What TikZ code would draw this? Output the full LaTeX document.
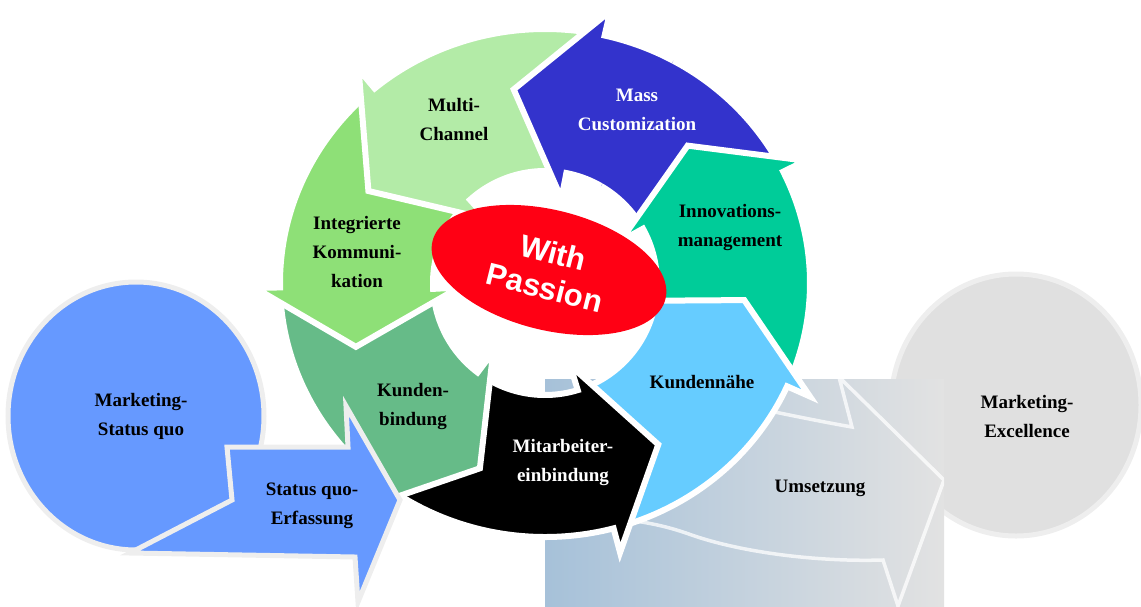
\documentclass[tikz,border=0pt]{standalone}
\usepackage{fontspec}
\setmainfont{Liberation Serif}
\newfontfamily\passionfont{Liberation Sans}
\usetikzlibrary{calc,shapes.geometric}

\definecolor{massblue}{HTML}{3333CC}
\definecolor{multigreen}{HTML}{B3EBA7}
\definecolor{intgreen}{HTML}{8EE077}
\definecolor{kundgreen}{HTML}{66BB88}
\definecolor{naeheblue}{HTML}{66CCFF}
\definecolor{innoteal}{HTML}{00CC99}
\definecolor{passionred}{HTML}{FF0014}
\definecolor{statusblue}{HTML}{6699FF}
\definecolor{rimgrey}{HTML}{EEEEEE}
\definecolor{excgrey}{HTML}{E0E0E0}
\definecolor{rectblue}{HTML}{A6C1D9}
\definecolor{rectgrey}{HTML}{E2E2E2}

\tikzset{
  lbl/.style={font=\fontsize{19}{29}\selectfont\bfseries, align=center, inner sep=0pt},
  lblw/.style={lbl, text=white},
  rimline/.style={draw=rimgrey, line width=5pt, line join=miter},
  ringgap/.style={draw=white, line width=6pt, line join=miter},
}

% one curved arrow of the cycle: colour, tail, head base, tip, inner barb (angles round C)
\newcommand{\cyclearrow}[5]{%
  \filldraw[#1, ringgap]
    ($(C)+(#2:265 and 254)$) arc[start angle=#2, end angle=#3, x radius=265, y radius=254]
    -- ($(C)+(#3:290 and 279)$) -- ($(C)+(#4:200 and 196)$)
    -- ($(C)+(#5:86)$) -- ($(C)+(#5:112)$)
    arc[start angle=#5, end angle=#2, radius=112] -- cycle;}

\begin{document}
\begin{tikzpicture}[x=1pt,y=-1pt]
\useasboundingbox (0,0) rectangle (1141,606);
\coordinate (C) at (545,283);
% goal and implementation
\filldraw[excgrey, rimline] (1016,405) ellipse[x radius=125, y radius=131];
\shade[left color=rectblue, right color=rectgrey] (545,379) rectangle (944,606);
\begin{scope}
\clip (545,379) rectangle (944,606);
\draw[white, opacity=0.75, line width=3.5pt, line join=miter]
  (600,440) -- (700,398) .. controls (740,404) and (800,418) .. (852,427) -- (839,377)
  -- (944,480) -- (898,606) -- (883,560) .. controls (820,562) and (740,553) .. (686,533)
  .. controls (665,526) and (645,521) .. (600,517) -- cycle;
\end{scope}
% the cycle
\cyclearrow{massblue}{-29}{-77}{-99}{-79}
\cyclearrow{innoteal}{21}{-26}{-44.5}{-29}
\cyclearrow{naeheblue}{72}{24}{5}{12}
\cyclearrow{black}{124}{75}{55.5}{73}
\cyclearrow{kundgreen}{176}{127}{109}{127}
\cyclearrow{intgreen}{-133}{-181}{-199}{-183}
\cyclearrow{multigreen}{-80}{-130}{-152}{-132}
\begin{scope}
\clip (C) -- ($(C)+(-60:420)$) arc[start angle=-60, end angle=-125, radius=420] -- cycle;
\cyclearrow{massblue}{-29}{-77}{-99}{-79}
\end{scope}
\node[ellipse, fill=passionred, minimum width=240pt, minimum height=120pt, rotate=-14,
  inner sep=0pt, text=white, align=center,
  font=\passionfont\bfseries\fontsize{31}{36}\selectfont] (passion) at (549,270) {With\\Passion};
% starting point
\filldraw[statusblue, rimline] (136,416) ellipse[x radius=128, y radius=134];
\filldraw[statusblue, rimline] (227,447) -- (348,447) -- (346,406) -- (400,500) -- (358,602)
  -- (355,557) -- (130,553) -- (232,500) -- cycle;
% labels
\node[lbl] (statusquo) at (141,416) {Marketing-\\Status quo};
\node[lbl] (erfassung) at (312,506) {Status quo-\\Erfassung};
\node[lbl] (excellence) at (1027,416) {Marketing-\\Excellence};
\node[lbl] (umsetzung) at (820,488) {Umsetzung};
\node[lblw] (mass) at (637,110) {Mass\\Customization};
\node[lbl] (multi) at (454,119) {Multi-\\Channel};
\node[lbl] (integ) at (357,252) {Integrierte\\Kommuni-\\kation};
\node[lbl] (inno) at (730,227) {Innovations-\\management};
\node[lbl] (naehe) at (702,382) {Kundennähe};
\node[lbl] (bindung) at (413,406) {Kunden-\\bindung};
\node[lblw] (mitarbeiter) at (563,462) {Mitarbeiter-\\einbindung};
\end{tikzpicture}
\end{document}
